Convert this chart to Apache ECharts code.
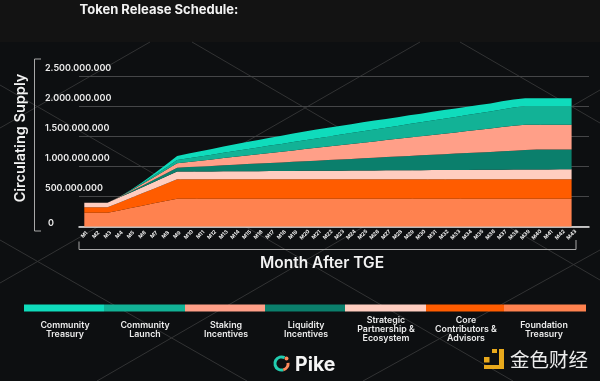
<!DOCTYPE html>
<html><head><meta charset="utf-8">
<style>html,body{margin:0;padding:0;background:#0d0f11}#c{width:600px;height:381px}</style>
<script src="https://cdn.jsdelivr.net/npm/echarts@6/dist/echarts.min.js"></script>
</head><body><div id="c"></div>
<script>
const months = ['M1','M2','M3','M4','M5','M6','M7','M8','M9','M10','M11','M12','M13','M14','M15','M16','M17','M18','M19','M20','M21','M22','M23','M24','M25','M26','M27','M28','M29','M30','M31','M32','M33','M34','M35','M36','M37','M38','M39','M40','M41','M42','M43'];
const yTickLabels = ['0','500.000.000','1.000.000.000','1.500.000.000','2.000.000.000','2.500.000.000'];
// millions of tokens per month
const foundationTreasury = [233,233,233,272,311,350,389,428,467,467,467,467,467,467,467,467,467,467,467,467,467,467,467,467,467,467,467,467,467,467,467,467,467,467,467,467,467,467,467,467,467,467,467];
const coreContributors = [90,90,90,129,168,207,245,284,323,323,323,323,323,323,323,323,323,323,323,323,323,323,323,323,323,323,323,323,323,323,323,323,323,323,323,323,323,323,323,323,323,323,323];
const strategicPartnership = [77,77,77,85,93,101,110,119,128,129,130,131,133,134,135,136,137,138,140,141,142,143,144,145,147,148,149,150,151,152,154,155,156,157,158,159,161,162,163,164,165,166,167];
const liquidityIncentives = [0,0,0,5,14,26,40,52,66,75,83,92,100,109,118,126,135,143,152,161,169,178,186,195,204,212,221,229,238,247,255,264,272,281,290,298,307,315,324,333,332,331,330];
const stakingIncentives = [0,0,0,5,14,28,42,57,73,85,97,108,120,132,143,155,167,178,190,202,213,225,237,248,260,272,283,295,307,318,330,342,353,365,377,388,402,416,423,413,413,413,413];
const communityLaunch = [0,0,0,0,5,14,27,40,55,63,72,80,89,97,106,114,123,131,140,148,157,165,174,182,191,199,208,216,225,233,242,250,259,267,276,284,295,305,311,311,311,311,311];
const communityTreasury = [0,0,0,0,5,15,30,48,67,76,86,95,105,112,120,125,130,135,140,145,147,148,148,148,147,147,146,146,145,144,143,142,141,140,138,136,134,132,130,129,129,129,129];
const stackNames = ['Foundation Treasury','Core Contributors & Advisors','Strategic Partnership & Ecosystem','Liquidity Incentives','Staking Incentives','Community Launch','Community Treasury'];
const stackValues = [foundationTreasury,coreContributors,strategicPartnership,liquidityIncentives,stakingIncentives,communityLaunch,communityTreasury];
const stackColors = ['#ff824f','#ff5c00','#ffcdc0','#0b7f6c','#ff9f88','#12b296','#0fdcbc'];
const legendLabels = ['Community\nTreasury','Community\nLaunch','Staking\nIncentives','Liquidity\nIncentives','Strategic\nPartnership &\nEcosystem','Core\nContributors &\nAdvisors','Foundation\nTreasury'];
const legendColors = ['#0fdcbc','#12b296','#ff9f88','#0b7f6c','#ffcdc0','#ff5c00','#ff824f'];
const legendEdges = [24,104,185,265,345,426,504,586];
const legendCenters = [65,145,226,306,386,466,544];

const FONT = 'Inter, Roboto, sans-serif';
const diag = [[0,128,150,42],[192,42,600,280],[460,42,600,123],[420,42,0,283],[0,85,513,381],[0,240,247,381],[97,381,600,90],[600,250,363,381]];
const gfx = [];
gfx.push({type:'rect',z:-3,shape:{x:0,y:0,width:600,height:42},style:{fill:'#131313'}});
diag.forEach(d=>gfx.push({type:'line',z:-2,shape:{x1:d[0],y1:d[1],x2:d[2],y2:d[3]},style:{stroke:'#323334',lineWidth:1}}));
gfx.push({type:'polyline',z:1,shape:{points:[[41,59],[34.5,59],[34.5,231],[41,231]]},style:{stroke:'#a8a8a8',lineWidth:1,fill:null}});
gfx.push({type:'polyline',z:1,shape:{points:[[79,241.5],[79,249.5],[576,249.5],[576,240]]},style:{stroke:'#a8a8a8',lineWidth:1,fill:null}});
gfx.push({type:'text',z:5,x:159,y:10,style:{text:'Token Release Schedule:',fill:'#f2f2f2',font:'700 13px '+FONT,align:'center',verticalAlign:'middle'}});
gfx.push({type:'text',z:5,x:21,y:138,rotation:Math.PI/2,style:{text:'Circulating Supply',fill:'#f2f2f2',font:'600 14.5px '+FONT,align:'center',verticalAlign:'middle'}});
gfx.push({type:'text',z:5,x:322,y:263,style:{text:'Month After TGE',fill:'#f2f2f2',font:'600 15.5px '+FONT,align:'center',verticalAlign:'middle'}});
legendColors.forEach((c,i)=>{
  gfx.push({type:'rect',z:5,shape:{x:legendEdges[i],y:304.5,width:legendEdges[i+1]-legendEdges[i],height:7},style:{fill:c}});
  gfx.push({type:'text',z:5,x:legendCenters[i],y:329.8,style:{text:legendLabels[i],fill:'#ececec',font:'600 8.8px '+FONT,lineHeight:9,align:'center',verticalAlign:'middle'}});
});
// Pike logo
gfx.push({type:'arc',z:5,shape:{cx:281.5,cy:363.5,r:6.6,startAngle:1.3,endAngle:5.2,clockwise:true},style:{stroke:'#22cdb0',lineWidth:3,fill:null}});
gfx.push({type:'arc',z:5,shape:{cx:281.5,cy:363.5,r:6.6,startAngle:-0.1,endAngle:1.3,clockwise:true},style:{stroke:'#ff8a5c',lineWidth:3,fill:null}});
gfx.push({type:'circle',z:5,shape:{cx:286.5,cy:358.5,r:2},style:{fill:'#ff8a5c'}});
gfx.push({type:'text',z:5,x:295,y:365,style:{text:'Pike',fill:'#f5f5f5',font:'700 19.5px '+FONT,align:'left',verticalAlign:'middle'}});
// watermark
[[484,357,5.5,5.5],[492,349,5,4],[499,349,5,20],[484,365,20,4]].forEach(r=>gfx.push({type:'rect',z:5,shape:{x:r[0],y:r[1],width:r[2],height:r[3]},style:{fill:'#e8a91c'}}));
gfx.push({type:'text',z:5,x:510,y:360,style:{text:'金色财经',fill:'#ececec',font:'400 19.5px "Noto Sans CJK SC"',align:'left',verticalAlign:'middle'}});

const chart = echarts.init(document.getElementById('c'),null,{renderer:'canvas'});
const tickStyle = {fontSize:9,fontWeight:600,color:'#ececec',fontFamily:FONT};
chart.setOption({
  animation:false,
  backgroundColor:'#0d0f11',
  graphic:{elements:gfx},
  grid:[
    {left:84.3,right:28.4,top:76.7,bottom:154.3},
    {left:79,right:11,top:76.7,bottom:154.3}
  ],
  xAxis:[
    {type:'category',gridIndex:0,data:months,boundaryGap:false,axisLine:{show:false},axisTick:{show:false},splitLine:{show:false},
     axisLabel:{interval:0,rotate:45,fontSize:5.2,fontWeight:700,color:'#f0f0f0',margin:8,align:'center',verticalAlign:'middle',fontFamily:FONT,hideOverlap:false}},
    {type:'category',gridIndex:1,data:[''],axisLine:{show:true,lineStyle:{color:'#f0f0f0',width:1.5}},axisTick:{show:false},axisLabel:{show:false},splitLine:{show:false}}
  ],
  yAxis:[
    {type:'value',gridIndex:0,min:0,max:2500,interval:500,show:false},
    {type:'value',gridIndex:1,min:0,max:2500,interval:500,axisLine:{show:false},axisTick:{show:false},
     splitLine:{show:true,lineStyle:{color:'#454648',width:1}},
     axisLabel:{align:'left',margin:34,verticalAlign:'middle',
       rich:{n:Object.assign({padding:[0,0,17,0]},tickStyle),z:Object.assign({padding:[0,0,6,3]},tickStyle)},
       formatter:(v,i)=>(i===0?'{z|':'{n|')+yTickLabels[i]+'}'}}
  ],
  series:stackNames.map((n,i)=>({name:n,type:'line',stack:'supply',xAxisIndex:0,yAxisIndex:0,data:stackValues[i],showSymbol:false,symbol:'none',
    lineStyle:{width:0},areaStyle:{color:stackColors[i],opacity:1},itemStyle:{color:stackColors[i]}}))
});
</script></body></html>
